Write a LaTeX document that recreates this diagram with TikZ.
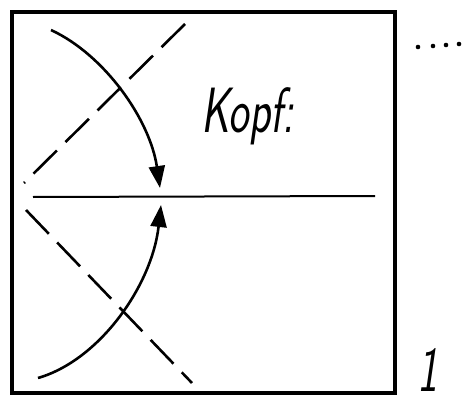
\documentclass[tikz,border=0pt]{standalone}
\usetikzlibrary{arrows.meta}

\begin{document}
\begin{tikzpicture}[x=1pt,y=-1pt,
  fold/.style={line width=2.6pt,dash pattern=on 33pt off 12pt},
  turn/.style={line width=2.6pt,-{Triangle[length=22pt,width=16pt]}},
  hand/.style={font=\sffamily\slshape\fontsize{64}{64}\selectfont,xscale=0.68,inner sep=0pt}]
  \useasboundingbox (0,0) rectangle (462,406);
  \draw[line width=3.6pt] (12,12) rectangle (395,393);
  \draw[line width=2pt] (33,197) -- (375,196);

  % fold lines
  \draw[fold] (185,24) -- (24,183);
  \draw[fold] (26,210) -- (192,383);

  % folding arrows
  \coordinate (topstart) at (51,30);
  \coordinate (toptip) at (160,188);
  \coordinate (botstart) at (38,378);
  \coordinate (bottip) at (161,205);
  \draw[turn] (topstart) .. controls (105,55) and (150,120) .. (toptip);
  \draw[turn] (botstart) .. controls (100,360) and (152,285) .. (bottip);

  \node[hand] (head) at (248,116) {Kopf:};
  \node[hand] (num) at (428,370) {1};

  \foreach \x/\y in {418/47,433/46,446/45,459/44}
    \fill (\x,\y) circle (2.3pt);
\end{tikzpicture}
\end{document}
